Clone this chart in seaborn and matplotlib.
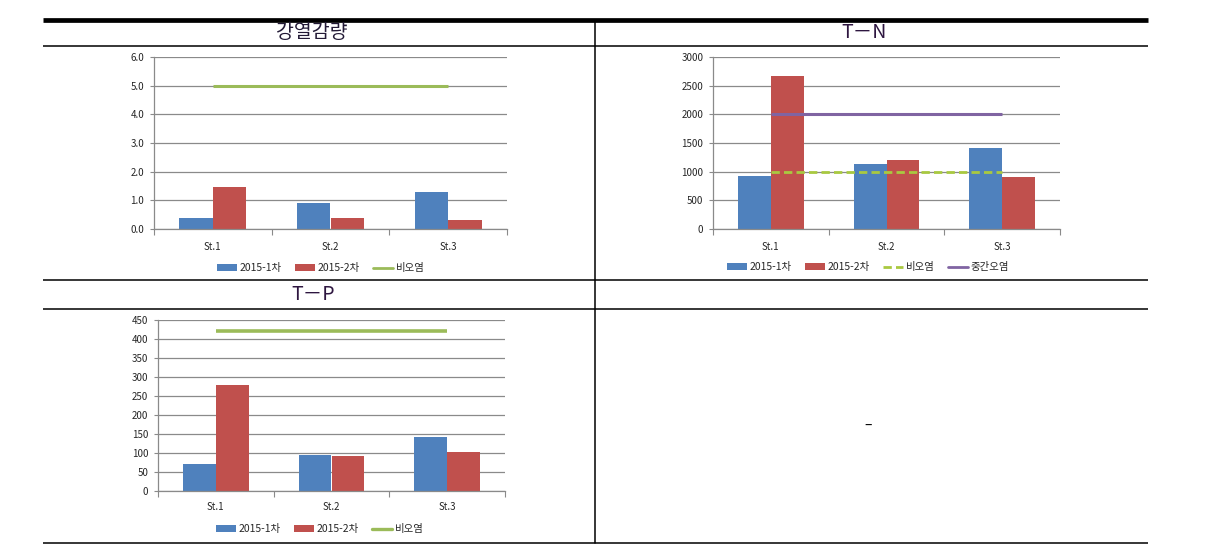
import numpy as np
import pandas as pd
import matplotlib
matplotlib.use("Agg")
import matplotlib.pyplot as plt
from matplotlib.lines import Line2D
from matplotlib.patches import Patch
import seaborn as sns

# ---------------- data ----------------
stations = ["St.1", "St.2", "St.3"]
series_names = ["2015-1차", "2015-2차"]

loss_1 = [0.39, 0.92, 1.30]
loss_2 = [1.47, 0.39, 0.30]
loss_clean = [5.0, 5.0, 5.0]
loss_ticks = [0, 1, 2, 3, 4, 5, 6]

tn_1 = [930, 1140, 1420]
tn_2 = [2675, 1210, 913]
tn_clean = [1000, 1000, 1000]
tn_mid = [2000, 2000, 2000]
tn_ticks = [0, 500, 1000, 1500, 2000, 2500, 3000]

tp_1 = [72, 96, 143]
tp_2 = [279, 93, 103]
tp_clean = [420, 420, 420]
tp_ticks = [0, 50, 100, 150, 200, 250, 300, 350, 400, 450]

titles = ["강열감량", "T－N", "T－P"]
line_names = ["비오염", "중간오염"]

# ---------------- style ----------------
sns.set_theme(style="white")
plt.rcParams["font.family"] = ["Noto Sans CJK KR", "DejaVu Sans"]

BLUE = "#4F81BD"
RED = "#C0504D"
GREEN = "#9BBB59"
YGREEN = "#A9C940"
PURPLE = "#8064A2"
GRID = "#8A8A8A"

W, H = 1215, 554
fig = plt.figure(figsize=(W / 100, H / 100), dpi=100)


def fx(px):
    return px / W


def fy(py):
    return 1 - py / H


def make_axes(left, right, top, bottom):
    return fig.add_axes([fx(left), fy(bottom), fx(right - left), (bottom - top) / H])


def bar_panel(ax, v1, v2, ticks, fmt):
    df = pd.DataFrame({
        "station": stations * 2,
        "value": list(v1) + list(v2),
        "series": [series_names[0]] * 3 + [series_names[1]] * 3,
    })
    sns.barplot(data=df, x="station", y="value", hue="series",
                palette=[BLUE, RED], width=0.57, gap=0, saturation=1,
                linewidth=0, legend=False, ax=ax, errorbar=None)
    ax.set_axisbelow(True)
    ax.set_ylim(ticks[0], ticks[-1])
    ax.set_yticks(ticks)
    ax.set_yticklabels([fmt.format(t) for t in ticks])
    ax.yaxis.grid(True, color=GRID, linewidth=0.9)
    ax.xaxis.grid(False)
    for s in ["top", "right"]:
        ax.spines[s].set_visible(False)
    for s in ["left", "bottom"]:
        ax.spines[s].set_color(GRID)
        ax.spines[s].set_linewidth(0.9)
    ax.set_xlabel("")
    ax.set_ylabel("")
    ax.tick_params(axis="y", which="major", direction="out", length=3,
                   color=GRID, width=0.8, labelsize=7, pad=4, left=True)
    ax.tick_params(axis="x", which="major", length=0, labelsize=7, pad=9)
    ax.set_xticks([-0.5, 0.5, 1.5, 2.5], minor=True)
    ax.tick_params(axis="x", which="minor", direction="out", length=4,
                   color=GRID, width=0.8, bottom=True)
    ax.set_facecolor("white")


def line_on(ax, vals, color, lw, dashed=False):
    sns.pointplot(x=stations, y=vals, color=color, marker="",
                  linestyle="-", linewidth=lw, errorbar=None, ax=ax)
    ln = ax.lines[-1]
    ln.set_solid_capstyle("butt")
    if dashed:
        ln.set_dashes([3.0, 1.5])
        ln.set_dash_capstyle("butt")
    ln.set_zorder(5)


# ---------------- panel 1 ----------------
ax1 = make_axes(154, 507, 57, 229)
bar_panel(ax1, loss_1, loss_2, loss_ticks, "{:.1f}")
line_on(ax1, loss_clean, GREEN, 2.2)
ax1.set_xlim(-0.5, 2.5)

# ---------------- panel 2 ----------------
ax2 = make_axes(713, 1060, 57, 229)
bar_panel(ax2, tn_1, tn_2, tn_ticks, "{:d}")
line_on(ax2, tn_clean, YGREEN, 2.0, dashed=True)
line_on(ax2, tn_mid, PURPLE, 2.2)
ax2.set_xlim(-0.5, 2.5)

# ---------------- panel 3 ----------------
ax3 = make_axes(158, 505, 320, 491)
bar_panel(ax3, tp_1, tp_2, tp_ticks, "{:d}")
line_on(ax3, tp_clean, GREEN, 2.6)
ax3.set_xlim(-0.5, 2.5)
ax3.tick_params(axis="x", which="major", pad=8)

# ---------------- legends ----------------
def legend_at(cx, cy, handles, labels):
    fig.legend(handles, labels, loc="center", bbox_to_anchor=(fx(cx), fy(cy)),
               ncol=len(handles), frameon=False, fontsize=7.5,
               handlelength=1.9, handleheight=0.6, handletextpad=0.25,
               columnspacing=1.3, borderaxespad=0)


bar_h = [Patch(facecolor=BLUE, edgecolor="none"), Patch(facecolor=RED, edgecolor="none")]
legend_at(321, 268, bar_h + [Line2D([], [], color=GREEN, lw=2)],
          series_names + [line_names[0]])
legend_at(868, 267, bar_h + [Line2D([], [], color=YGREEN, lw=2, dashes=[3.0, 1.5]),
                             Line2D([], [], color=PURPLE, lw=2)],
          series_names + line_names)
legend_at(320, 529, bar_h + [Line2D([], [], color=GREEN, lw=2.4)],
          series_names + [line_names[0]])

# ---------------- titles ----------------
fig.text(fx(312), fy(33), titles[0], ha="center", va="center", fontsize=14, color="#231a36")
fig.text(fx(864), fy(33), titles[1], ha="center", va="center", fontsize=14, color="#2e1640")
fig.text(fx(313), fy(295), titles[2], ha="center", va="center", fontsize=14, color="#2e1640")
fig.text(fx(868), fy(426), "–", ha="center", va="center", fontsize=10, color="black")

# ---------------- table rules ----------------
def hline(y, lw, x0=43, x1=1148):
    fig.add_artist(Line2D([fx(x0), fx(x1)], [fy(y), fy(y)], color="black",
                          lw=lw, solid_capstyle="butt"))


hline(19.7, 3.4)
hline(46, 1.1)
hline(280, 1.1)
hline(309, 1.1)
hline(543, 1.1)
fig.add_artist(Line2D([fx(595), fx(595)], [fy(21), fy(543)], color="black", lw=1.1))

fig.savefig("out.png", dpi=100, facecolor="white")
